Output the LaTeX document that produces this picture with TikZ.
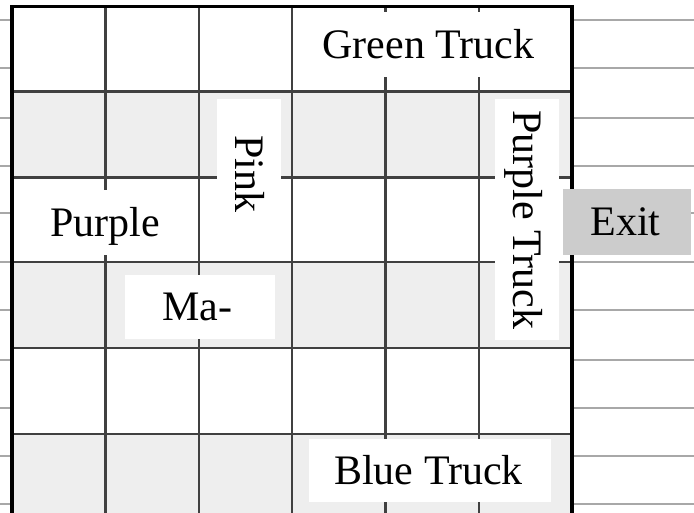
\documentclass[tikz,border=0pt]{standalone}
\usepackage{fontspec}
\setmainfont{Liberation Serif}
\definecolor{gridc}{HTML}{404040}
\definecolor{sidec}{HTML}{A8A8A8}
\definecolor{shadec}{HTML}{EEEEEE}
\definecolor{exitc}{HTML}{CCCCCC}
\begin{document}
\begin{tikzpicture}[x=1pt,y=-1pt,
  sideline/.style={draw=sidec,line width=2.2pt},
  gridline/.style={draw=gridc,line width=2.4pt},
  border/.style={draw=black,line width=3.6pt},
  shaderow/.style={fill=shadec},
  lbl/.style={fill=white,inner sep=0pt,font=\fontsize{42}{48}\selectfont,
    text height=27.6pt,text depth=0pt,align=center},
  exitbox/.style={lbl,fill=exitc}]
\useasboundingbox (0,0) rectangle (694,513);
\clip (0,0) rectangle (694,513);
% background lines
\foreach \y in {20,67.7,117.7,165.7,212.7,262,310,359.7,408,456,504}
  \draw[sideline] (0,\y) -- (694,\y);
% board
\fill[white] (12,6.5) rectangle (572,519.5);
\foreach \a/\b in {91.7/177.7,262/348,433.7/519.5}
  \fill[shaderow] (12,\a) rectangle (572,\b);
\foreach \x in {105.3,198.7,292,385.3,478.7}
  \draw[gridline] (\x,6.5) -- (\x,519.5);
\foreach \y in {91.7,177.7,262,348,433.7}
  \draw[gridline] (12,\y) -- (572,\y);
\draw[border] (12,6.5) rectangle (572,519.5);
% vehicles
\node[lbl,minimum width=242pt,minimum height=65pt] (green) at (430,44.5) {Green Truck\hspace*{3pt}};
\node[lbl,minimum width=150pt,minimum height=65pt] (purple) at (105,222.5) {Purple};
\node[lbl,rotate=-90,minimum width=150pt,minimum height=64pt] (pink) at (249,174) {Pink};
\node[lbl,minimum width=150pt,minimum height=64pt] (ma) at (200,307) {Ma-\hspace*{6pt}};
\node[lbl,rotate=-90,minimum width=241pt,minimum height=64pt] (ptruck) at (527,219.5) {Purple Truck};
\node[lbl,minimum width=242pt,minimum height=63pt] (blue) at (430,470.5) {Blue Truck\hspace*{3pt}};
% exit
\node[exitbox,minimum width=128pt,minimum height=66pt] (exit) at (627,222) {Exit\hspace*{3pt}};
\end{tikzpicture}
\end{document}
